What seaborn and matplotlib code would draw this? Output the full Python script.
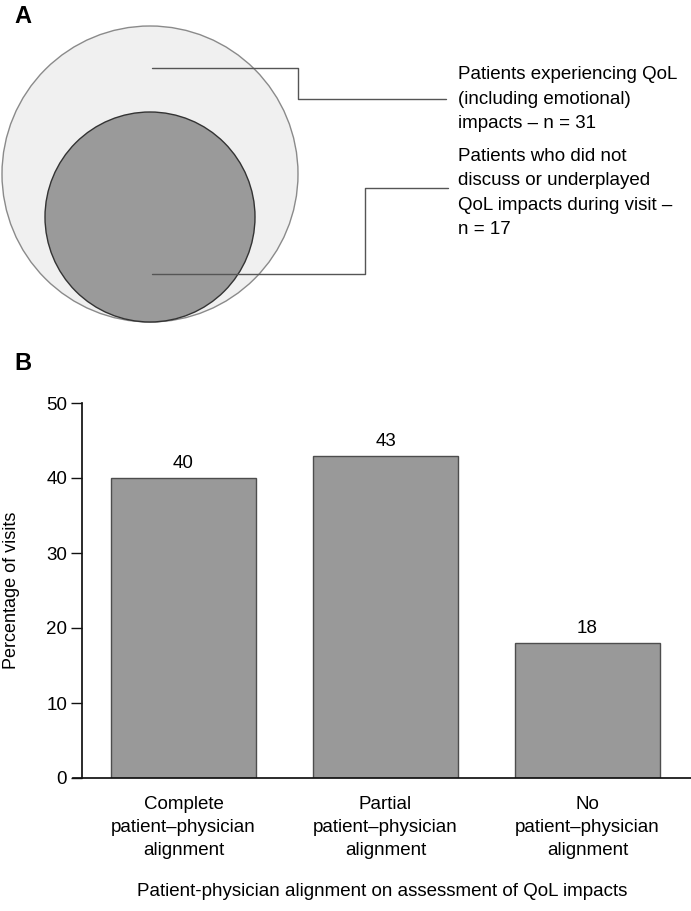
import matplotlib
matplotlib.use("Agg")
import matplotlib.pyplot as plt
import seaborn as sns
import pandas as pd
from matplotlib.patches import Circle

# panel A: nested groups
venn_labels = ["Patients experiencing QoL\n(including emotional)\nimpacts \u2013 n = 31",
               "Patients who did not\ndiscuss or underplayed\nQoL impacts during visit \u2013\nn = 17"]
venn_counts = [31, 17]

# panel B: alignment on QoL impacts
categories = ["Complete\npatient\u2013physician\nalignment",
              "Partial\npatient\u2013physician\nalignment",
              "No\npatient\u2013physician\nalignment"]
pct_visits = [40, 43, 18]
y_ticks = [0, 10, 20, 30, 40, 50]

sns.set_theme(style="ticks")
plt.rcParams['font.family'] = ['Liberation Sans', 'DejaVu Sans']
for k in ['text.color', 'axes.labelcolor', 'xtick.color', 'ytick.color']:
    plt.rcParams[k] = 'black'

W, H = 691, 911
fs = 13.5
fig = plt.figure(figsize=(W / 100, H / 100), dpi=100)

#%% panel A (pixel coords)
axA = fig.add_axes([0, 1 - 340 / H, 1, 340 / H])
axA.set_xlim(0, W)
axA.set_ylim(340, 0)
axA.axis('off')

outer = Circle((150, 174), 148, facecolor='#f0f0f0', edgecolor='#8a8a8a', lw=1)
inner = Circle((150, 217), 105, facecolor='#9a9a9a', edgecolor='#333333', lw=1)
axA.add_patch(outer)
axA.add_patch(inner)

line_col = '#555555'
axA.plot([152, 298, 298, 446], [68, 68, 99, 99], color=line_col, lw=1)
axA.plot([152, 365, 365, 448], [274, 274, 188, 188], color=line_col, lw=1)

axA.text(458, 99, venn_labels[0], fontsize=fs, va='center', ha='left', linespacing=1.54)
axA.text(458, 193, venn_labels[1], fontsize=fs, va='center', ha='left', linespacing=1.54)

fig.text(14 / W, 1 - 5 / H, "A", fontsize=17, fontweight='bold', va='top', ha='left')
fig.text(14 / W, 1 - 352 / H, "B", fontsize=17, fontweight='bold', va='top', ha='left')

#%% panel B
axB = fig.add_axes([73 / W, 1 - 778 / H, (W - 73) / W, (778 - 403) / H])
df = pd.DataFrame({'cat': categories, 'pct': pct_visits})
sns.barplot(data=df, x='cat', y='pct', color='#999999', saturation=1,
            edgecolor='#4d4d4d', linewidth=1, width=0.72, ax=axB)
axB.bar_label(axB.containers[0], padding=4, fontsize=fs)

axB.set_xlim(-0.547, 2.512)
axB.set_ylim(0, 50)
axB.set_yticks(y_ticks)
axB.spines['top'].set_visible(False)
axB.spines['right'].set_visible(False)
axB.spines['left'].set_position(('data', -0.5))
axB.spines['left'].set_color('#111111')
axB.spines['bottom'].set_color('#111111')
axB.tick_params(axis='y', length=8, width=1, pad=3, labelsize=fs, color='#111111')
axB.tick_params(axis='x', length=0, pad=13, labelsize=fs)
for t in axB.get_xticklabels():
    t.set_linespacing(1.46)

axB.set_ylabel("Percentage of visits", fontsize=13, labelpad=19)
axB.set_xlabel("Patient-physician alignment on assessment of QoL impacts", fontsize=fs, labelpad=17)

fig.savefig("out.png", dpi=100)
